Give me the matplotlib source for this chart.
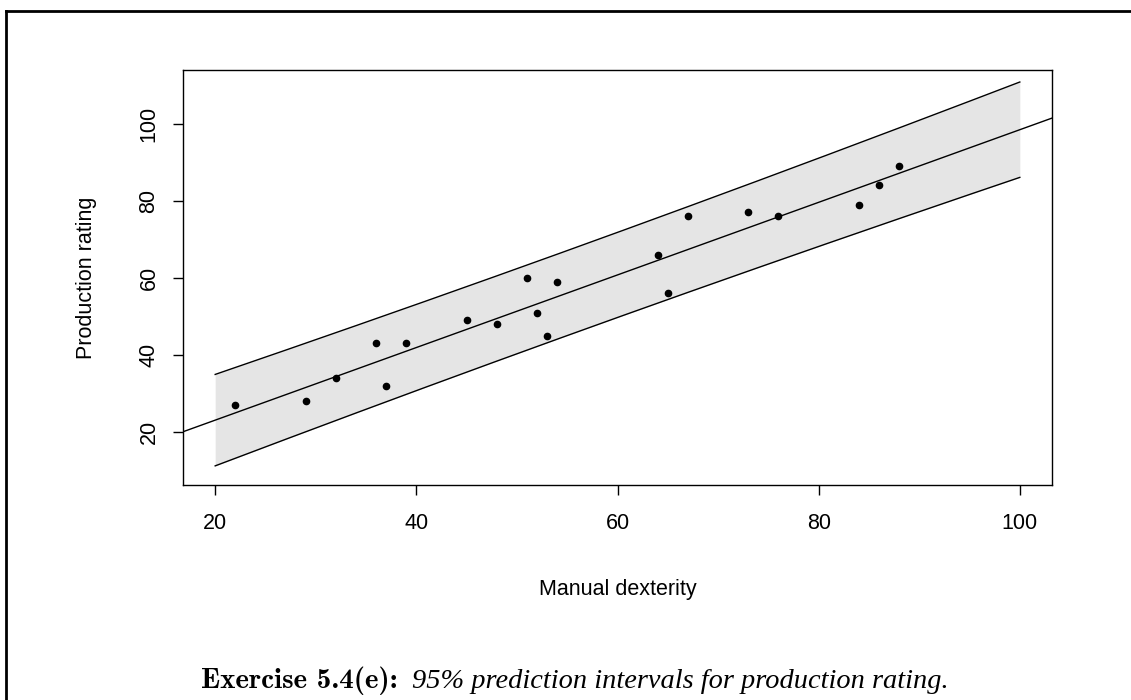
import numpy as np
import matplotlib
matplotlib.use("Agg")
import matplotlib.pyplot as plt
from matplotlib.lines import Line2D

# Data
dexterity = np.array([22, 29, 32, 36, 37, 39, 45, 48, 51, 52, 53, 54, 64, 65, 67, 73, 76, 84, 86, 88])
production = np.array([27, 28, 34, 43, 32, 43, 49, 48, 60, 51, 45, 59, 66, 56, 76, 77, 76, 79, 84, 89])
xticks = [20, 40, 60, 80, 100]
yticks = [20, 40, 60, 80, 100]
band_range = (20, 100)
t_crit = 2.100922  # t(0.975, df = 18)

# Least squares fit and 95% prediction interval
n = len(dexterity)
slope, intercept = np.polyfit(dexterity, production, 1)
resid = production - (intercept + slope * dexterity)
s = np.sqrt(np.sum(resid ** 2) / (n - 2))
xbar = dexterity.mean()
sxx = np.sum((dexterity - xbar) ** 2)
xg = np.linspace(band_range[0], band_range[1], 200)
fit = intercept + slope * xg
half = t_crit * s * np.sqrt(1 + 1 / n + (xg - xbar) ** 2 / sxx)
lower, upper = fit - half, fit + half

plt.rcParams['font.family'] = ['Liberation Sans', 'DejaVu Sans']

W, H = 1131, 700
fig = plt.figure(figsize=(W / 100, H / 100), dpi=100)
ax = fig.add_axes([183 / W, 1 - 485 / H, (1052 - 183) / W, (485 - 70) / H])

ax.fill_between(xg, lower, upper, color='#e5e5e5', linewidth=0, zorder=1)
ax.plot(xg, upper, color='black', lw=1, zorder=2)
ax.plot(xg, lower, color='black', lw=1, zorder=2)
xl = (16.8, 103.2)
ax.plot(np.array(xl), intercept + slope * np.array(xl), color='black', lw=1, zorder=2)
ax.plot(dexterity, production, 'o', color='black', ms=4.5, zorder=3)

ax.set_xlim(*xl)
ax.set_ylim(6.2, 114.0)
ax.set_xticks(xticks)
ax.set_yticks(yticks)
ax.tick_params(axis='both', direction='out', length=7, width=1, labelsize=15.5, pad=13, colors='black')
ax.tick_params(axis='y', labelrotation=90, pad=10)
for lab in ax.get_yticklabels():
    lab.set_va('center')
for sp in ax.spines.values():
    sp.set_linewidth(1)
    sp.set_color('black')

fig.text(617.5 / W, 1 - 589 / H, 'Manual dexterity', ha='center', va='center', fontsize=15.5)
fig.text(86.5 / W, 1 - 278 / H, 'Production rating', ha='center', va='center', fontsize=15.5, rotation=90)

# Outer frame (clipped at right and bottom)
fig.add_artist(Line2D([6 / W, 1.0], [1 - 11 / H, 1 - 11 / H], color='black', lw=2, transform=fig.transFigure))
fig.add_artist(Line2D([6 / W, 6 / W], [1 - 11 / H, 0.0], color='black', lw=2, transform=fig.transFigure))

# Caption: bold label + italic text, sized to the reference widths
cap_y = 1 - 688 / H
t1 = fig.text(0, cap_y, 'Exercise 5.4(e):', fontfamily='cmb10', fontsize=20, ha='left', va='baseline')
t2 = fig.text(0, cap_y, '95% prediction intervals for production rating.', fontfamily='Liberation Serif',
              fontstyle='italic', fontsize=20, ha='left', va='baseline')
fig.canvas.draw()
r = fig.canvas.get_renderer()
w1 = t1.get_window_extent(r).width
w2 = t2.get_window_extent(r).width
t1.set_fontsize(20 * 197 / w1)
t2.set_fontsize(20 * 537 / w2)
fig.canvas.draw()
w1 = t1.get_window_extent(r).width
w2 = t2.get_window_extent(r).width
gap = 14
total = w1 + gap + w2
x0 = 575 - total / 2
t1.set_x(x0 / W)
t2.set_x((x0 + w1 + gap) / W)

fig.savefig('out.png', dpi=100)
